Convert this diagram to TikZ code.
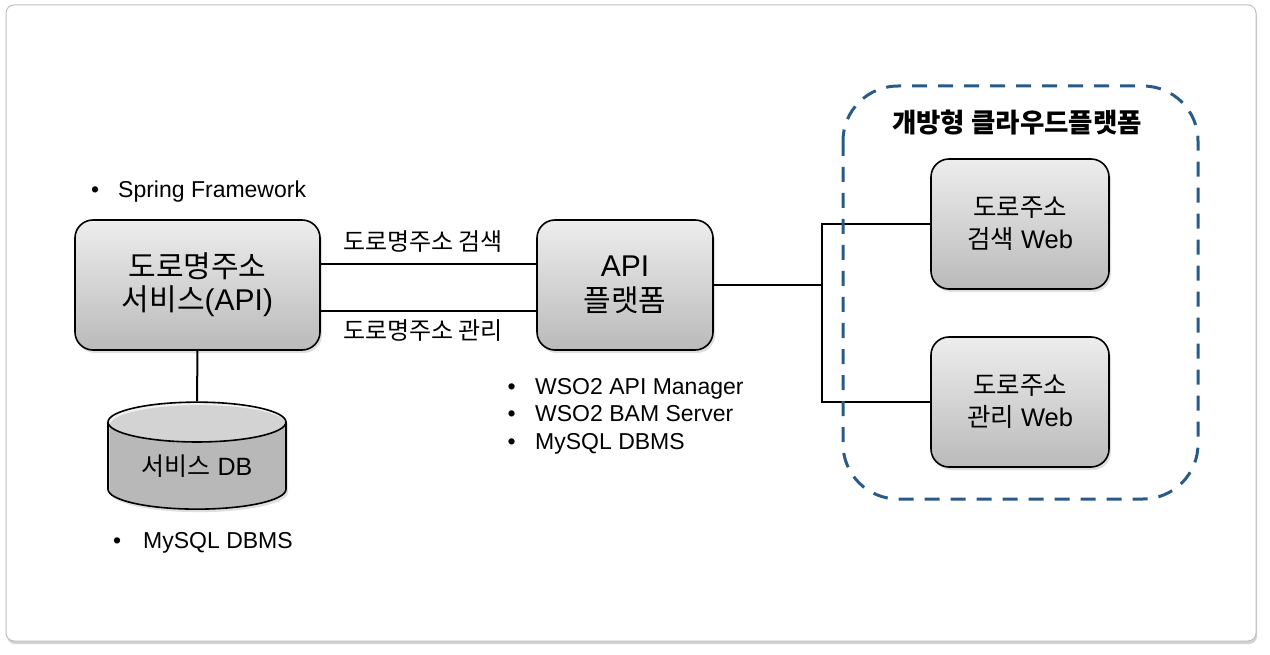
\documentclass[tikz,border=0pt]{standalone}
\usepackage{fontspec}
\setmainfont{Liberation Sans}
\newfontfamily\kr{Noto Sans CJK KR}
\usepackage{tikz}
\usetikzlibrary{shapes.geometric,shadows}
\definecolor{cloudblue}{RGB}{41,90,136}
\tikzstyle{Rbox}=[shape=rectangle,rounded corners=18pt,draw=black,line width=1.6pt,top color=black!7,bottom color=black!27,align=center,inner sep=0pt,drop shadow={opacity=0.25,shadow xshift=2pt,shadow yshift=-3pt}]
\tikzstyle{DBstate}=[shape=cylinder,shape border rotate=90,aspect=0.36,draw=black,line width=1.6pt,cylinder uses custom fill,cylinder body fill=black!20,cylinder end fill=black!6,inner sep=0pt,drop shadow={opacity=0.25,shadow xshift=2pt,shadow yshift=-3pt}]
\tikzstyle{link}=[line width=2pt,draw=black]
\tikzstyle{note}=[font=\fontsize{23}{27.5}\selectfont,align=left,anchor=west,inner sep=0pt]
\tikzstyle{lbl}=[font=\fontsize{24}{28}\selectfont\kr,inner sep=0pt]

\begin{document}
\begin{tikzpicture}[x=1pt,y=-1pt]
\useasboundingbox (0,0) rectangle (1270,655);

\draw[draw=black!25,fill=white,rounded corners=8pt,line width=1pt,drop shadow={opacity=0.35,shadow xshift=1pt,shadow yshift=-3pt}] (6,5) rectangle (1256,641);

\node[Rbox,minimum width=245pt,minimum height=130pt,font=\fontsize{30}{33}\selectfont] (svc) at (197.5,285) {{\kr 도로명주소}\\{\kr 서비스}(API)};
\node[Rbox,minimum width=176pt,minimum height=130pt,font=\fontsize{30}{35}\selectfont] (api) at (625,285) {API\\{\kr 플랫폼}};
\node[Rbox,minimum width=178pt,minimum height=130pt,font=\fontsize{25.5}{32}\selectfont] (web1) at (1020,224) {{\kr 도로주소}\\{\kr 검색} Web};
\node[Rbox,minimum width=178pt,minimum height=130pt,font=\fontsize{25.5}{32}\selectfont] (web2) at (1020,402) {{\kr 도로주소}\\{\kr 관리} Web};
\node[DBstate,minimum width=178pt,minimum height=107pt,font=\fontsize{25}{28}\selectfont] (db) at (197,466) {{\kr 서비스} DB};

\node[note] (spring) at (91,192) {\makebox[27pt][l]{•}Spring Framework};
\node[note] (wso2) at (507.5,416) {\makebox[27.5pt][l]{•}WSO2 API Manager\\\makebox[27.5pt][l]{•}WSO2 BAM Server\\\makebox[27.5pt][l]{•}MySQL DBMS};
\node[note] (mysql) at (113,543) {\makebox[30pt][l]{•}MySQL DBMS};

\coordinate (s1) at ([yshift=21pt]svc.east);
\coordinate (s2) at ([yshift=-26pt]svc.east);
\coordinate (split) at (822,285);
\draw[link] (s1) -- (s1 -| api.west);
\draw[link] (s2) -- (s2 -| api.west);
\draw[link] (svc.south) -- (db.north);
\draw[link] (api.east) -- (split);
\draw[link] (web1.west) -| (split) |- (web2.west);

\node[lbl] (lsearch) at (423,242) {도로명주소 검색};
\node[lbl] (lmanage) at (423,331) {도로명주소 관리};

% cloud platform
\draw[cloudblue,line width=3pt,dash pattern=on 15pt off 11pt,rounded corners=55pt] (843,86) rectangle (1198,499);
\node[font=\fontsize{26.5}{30}\selectfont\kr\bfseries] (cloudtitle) at (1017,123) {개방형 클라우드플랫폼};

\end{tikzpicture}
\end{document}
